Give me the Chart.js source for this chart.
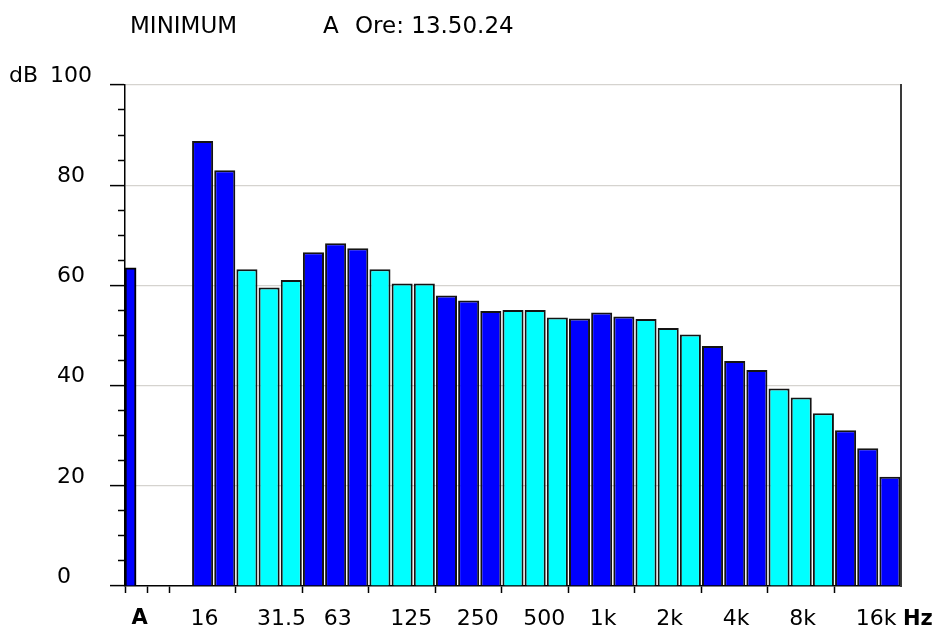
<!DOCTYPE html>
<html>
<head>
<meta charset="utf-8">
<script src="https://cdn.jsdelivr.net/npm/chart.js@4/dist/chart.umd.min.js"></script>
<style>
  html, body { margin: 0; padding: 0; background: #fff; }
  #wrap { width: 933px; height: 631px; }
</style>
</head>
<body>
<div id="wrap"><canvas id="c" width="933" height="631"></canvas></div>
<script>
// Header line
const headerMode = 'MINIMUM';
const headerWeighting = 'A';
const headerTime = 'Ore: 13.50.24';
const levelUnit = 'dB';
const freqUnit = 'Hz';

// Overall A-weighted level
const overallLabel = 'A';
const overallLevel = 63.5;

// Third-octave bands, 16 Hz .. 20 kHz
const bandFreqs = ['16', '20', '25', '31.5', '40', '50', '63', '80', '100', '125', '160',
  '200', '250', '315', '400', '500', '630', '800', '1k', '1.25k', '1.6k', '2k', '2.5k',
  '3.15k', '4k', '5k', '6.3k', '8k', '10k', '12.5k', '16k', '20k'];
const bandLevels = [88.8, 83.0, 63.2, 59.6, 61.1, 66.6, 68.4, 67.4, 63.2, 60.4, 60.4,
  58.0, 57.0, 54.9, 55.1, 55.1, 53.6, 53.4, 54.6, 53.8, 53.3, 51.5, 50.2,
  47.9, 44.9, 43.1, 39.4, 37.6, 34.5, 31.1, 27.5, 21.8];

// Frequencies printed under the axis
const freqTickLabels = ['16', '31.5', '63', '125', '250', '500', '1k', '2k', '4k', '8k', '16k'];
// Level axis: labelled every 20 dB, minor marks every 5 dB
const levelMin = 0;
const levelMax = 100;
const levelMajorStep = 20;
const levelMinorStep = 5;

// Empty slots between the overall bar and the first band
const gapSlots = 2;

const BLUE = '#0000ff';
const CYAN = '#00ffff';
const FONT = '"DejaVu Sans", "Liberation Sans", Arial, sans-serif';

const categories = [overallLabel, ...Array(gapSlots).fill(''), ...bandFreqs];
const firstBand = gapSlots + 1;
const overallData = categories.map((c, i) => (i === 0 ? overallLevel : null));
const spacerData = categories.map(() => null);
const bandData = categories.map((c, i) => (i >= firstBand ? bandLevels[i - firstBand] : null));
// bands are shaded in alternating groups of three
const bandColors = categories.map((c, i) => {
  const b = i - firstBand;
  if (b < 0) return BLUE;
  return Math.floor((b + 1) / 3) % 2 === 0 ? BLUE : CYAN;
});

// x tick marks: around the empty slots and between colour groups
function hasFreqTick(i) {
  if (i === undefined) return false;
  if (i <= gapSlots) return true;
  const b = i - firstBand;
  return b >= 2 && (b - 2) % 3 === 0 && i < categories.length - 2;
}

const X_TICK_LEN = 7;
const X_TICK_PAD = 13;
const X_FONT_SIZE = 22;
const Y_LABEL_SHIFT = -9;

const annotations = {
  id: 'annotations',
  afterDraw(chart) {
    const { ctx } = chart;
    const x = chart.scales.x;
    const y = chart.scales.y;
    ctx.save();
    ctx.fillStyle = '#000';
    ctx.font = `23px ${FONT}`;
    ctx.textAlign = 'left';
    ctx.textBaseline = 'alphabetic';
    ctx.fillText(headerMode, 130, 33);
    ctx.fillText(headerWeighting, 323, 33);
    ctx.fillText(headerTime, 355, 33);

    ctx.font = `22px ${FONT}`;
    ctx.textBaseline = 'middle';
    ctx.fillText(levelUnit, 9, y.getPixelForValue(levelMax) + Y_LABEL_SHIFT);

    ctx.font = `bold 21px ${FONT}`;
    ctx.fillText(freqUnit, x.right + 2, x.top + X_TICK_LEN + X_TICK_PAD + X_FONT_SIZE * 0.6);
    ctx.restore();
  }
};

new Chart(document.getElementById('c'), {
  type: 'bar',
  data: {
    labels: categories,
    datasets: [
      {
        data: overallData,
        grouped: true,
        backgroundColor: BLUE,
        borderColor: '#000',
        borderWidth: 2,
        barPercentage: 1,
        categoryPercentage: 1
      },
      {
        // shares the first slot with the overall bar so it takes half the width
        data: spacerData,
        grouped: true,
        barPercentage: 1,
        categoryPercentage: 1
      },
      {
        data: bandData,
        grouped: false,
        backgroundColor: bandColors,
        borderColor: '#141414',
        borderWidth: 2,
        barPercentage: 0.95,
        categoryPercentage: 1
      }
    ]
  },
  options: {
    responsive: false,
    animation: false,
    devicePixelRatio: 1,
    layout: { padding: { left: 50, right: 32, top: 85, bottom: 0 } },
    plugins: { legend: { display: false }, tooltip: { enabled: false } },
    scales: {
      x: {
        type: 'category',
        offset: true,
        grid: {
          offset: true,
          drawOnChartArea: false,
          drawTicks: true,
          tickLength: X_TICK_LEN,
          tickWidth: 1.5,
          tickColor: (ctx) => (hasFreqTick(ctx.index) ? '#000' : 'rgba(0,0,0,0)')
        },
        border: { display: true, color: '#000', width: 1.5 },
        ticks: {
          autoSkip: false,
          maxRotation: 0,
          minRotation: 0,
          align: 'start',
          labelOffset: -12,
          padding: X_TICK_PAD,
          color: '#000',
          font: (ctx) => (ctx.index === 0
            ? { family: FONT, size: 21, weight: 'bold' }
            : { family: FONT, size: X_FONT_SIZE }),
          callback: (value, index) => {
            if (index === 0) return ' ' + overallLabel;
            const name = categories[index];
            return freqTickLabels.includes(name) ? name : '';
          }
        },
        afterFit: (s) => { s.height = 45; s.paddingLeft = 0; s.paddingRight = 0; }
      },
      y: {
        type: 'linear',
        position: 'left',
        min: levelMin,
        max: levelMax,
        grid: {
          color: (ctx) => (ctx.tick && ctx.tick.value % levelMajorStep === 0 && ctx.tick.value > levelMin
            ? '#d5d3cf' : 'rgba(0,0,0,0)'),
          lineWidth: 1.2,
          drawTicks: true,
          tickLength: 15,
          tickWidth: 1.5,
          tickColor: '#000',
          tickBorderDash: (ctx) => (ctx.tick && ctx.tick.value % levelMajorStep !== 0 ? [0, 8, 9, 100] : [])
        },
        border: { display: true, color: '#000', width: 1.5 },
        ticks: {
          stepSize: levelMinorStep,
          autoSkip: false,
          crossAlign: 'far',
          labelOffset: Y_LABEL_SHIFT,
          padding: 0,
          color: '#000',
          font: { family: FONT, size: 22 },
          callback: (v) => {
            if (v % levelMajorStep !== 0) return '';
            return v === levelMax ? String(v) : ' ' + v;
          }
        },
        afterFit: (s) => { s.width = 75; s.paddingTop = 0; s.paddingBottom = 0; }
      },
      yRight: {
        type: 'linear',
        position: 'right',
        min: levelMin,
        max: levelMax,
        grid: { drawOnChartArea: false, drawTicks: false },
        border: { display: true, color: '#3a3a3a', width: 2 },
        ticks: { display: false },
        afterFit: (s) => { s.width = 0; s.paddingTop = 0; s.paddingBottom = 0; }
      }
    }
  },
  plugins: [annotations]
});
</script>
</body>
</html>
